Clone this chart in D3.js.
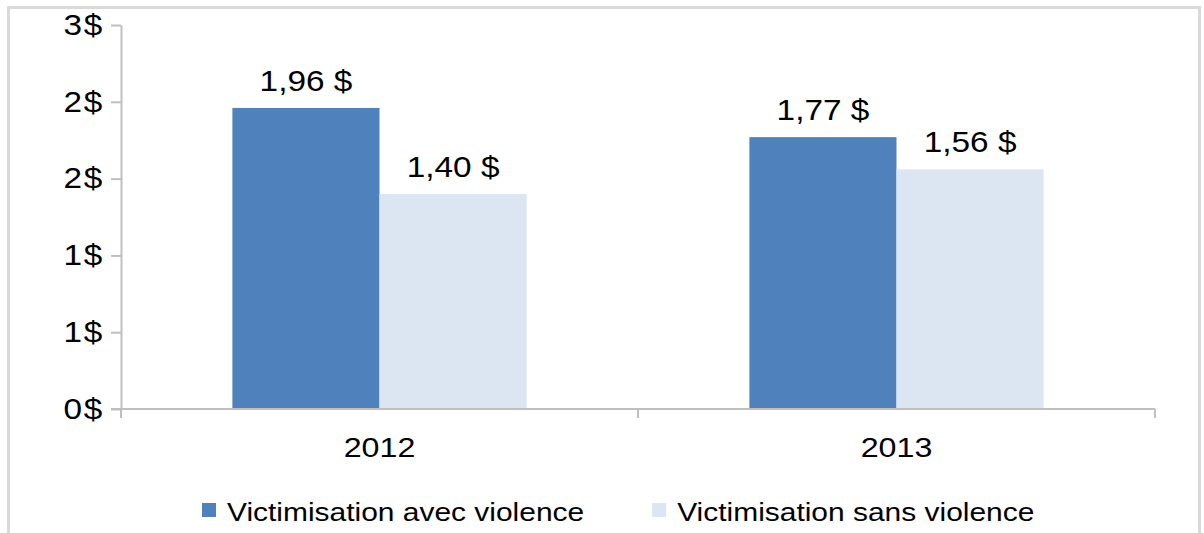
<!DOCTYPE html>
<html>
<head>
<meta charset="utf-8">
<script src="https://cdn.jsdelivr.net/npm/d3@7"></script>
<style>
  html, body { margin: 0; padding: 0; background: #ffffff; }
  svg { display: block; }
  text { font-family: "Liberation Sans", Arial, Helvetica, sans-serif; fill: #000; }
</style>
</head>
<body>
<svg id="chart" width="1204" height="533"></svg>
<script>
// ---- data ----
const categories = ["2012", "2013"];
const seriesNames = ["Victimisation avec violence", "Victimisation sans violence"];
const avecViolence = [1.96, 1.77];
const sansViolence = [1.40, 1.56];
const valueLabelsAvec = ["1,96 $", "1,77 $"];
const valueLabelsSans = ["1,40 $", "1,56 $"];
const yTickValues = [0, 0.5, 1, 1.5, 2, 2.5];
const yTickLabels = ["0$", "1$", "1$", "2$", "2$", "3$"];
const seriesColors = ["#4f81bd", "#dce6f2"];

// ---- layout ----
const svg = d3.select("#chart");
const plot = { left: 121, right: 1155, top: 25, bottom: 409 };
const axisColor = "#bfbfbf";
const SX = 1.15;

// outer frame
svg.append("rect")
  .attr("x", 8.5).attr("y", 7.5)
  .attr("width", 1191).attr("height", 560)
  .attr("fill", "none").attr("stroke", "#d9d9d9").attr("stroke-width", 3);

const y = d3.scaleLinear().domain([0, 2.5]).range([plot.bottom, plot.top]);
const x0 = d3.scaleBand().domain(categories).range([plot.left, plot.right]).paddingInner(0).paddingOuter(0);
const x1 = d3.scaleBand().domain(seriesNames).range([0, x0.bandwidth()]).paddingInner(0).paddingOuter(0.757);

const rows = categories.map((c, i) => ({
  cat: c,
  vals: [
    { s: seriesNames[0], v: avecViolence[i], lab: valueLabelsAvec[i], color: seriesColors[0] },
    { s: seriesNames[1], v: sansViolence[i], lab: valueLabelsSans[i], color: seriesColors[1] }
  ]
}));

// y axis
const yAxis = d3.axisLeft(y)
  .tickValues(yTickValues)
  .tickFormat((d, i) => yTickLabels[i])
  .tickSize(10)
  .tickSizeOuter(0);
const gy = svg.append("g").attr("transform", `translate(${plot.left},0)`).call(yAxis);
gy.select(".domain").attr("stroke", axisColor).attr("stroke-width", 2);
gy.selectAll(".tick line").attr("stroke", axisColor).attr("stroke-width", 2);
gy.selectAll(".tick text")
  .attr("x", 0)
  .attr("transform", `translate(-17,0) scale(${SX},1)`)
  .style("font-size", "29px")
  .style("letter-spacing", "1.5px")
  .attr("fill", "#000");

// bars
const groups = svg.append("g").selectAll("g").data(rows).join("g")
  .attr("transform", d => `translate(${x0(d.cat)},0)`);
groups.selectAll("rect").data(d => d.vals).join("rect")
  .attr("x", d => x1(d.s))
  .attr("y", d => y(d.v))
  .attr("width", x1.bandwidth())
  .attr("height", d => y(0) - y(d.v))
  .attr("fill", d => d.color);

// value labels
groups.selectAll("text").data(d => d.vals).join("text")
  .attr("transform", d => `translate(${x1(d.s) + x1.bandwidth() / 2},${y(d.v) - 17}) scale(${SX},1)`)
  .attr("text-anchor", "middle")
  .style("font-size", "29px")
  .text(d => d.lab);

// x axis line and category ticks
svg.append("line")
  .attr("x1", plot.left - 10).attr("x2", plot.right)
  .attr("y1", plot.bottom).attr("y2", plot.bottom)
  .attr("stroke", axisColor).attr("stroke-width", 2);
const boundaries = categories.map(c => x0(c)).concat([x0(categories[categories.length - 1]) + x0.bandwidth()]);
svg.append("g").selectAll("line").data(boundaries).join("line")
  .attr("x1", d => d).attr("x2", d => d)
  .attr("y1", plot.bottom).attr("y2", plot.bottom + 9)
  .attr("stroke", axisColor).attr("stroke-width", 2);

// category labels
svg.append("g").selectAll("text").data(categories).join("text")
  .attr("transform", d => `translate(${x0(d) + x0.bandwidth() / 2},457) scale(${SX},1)`)
  .attr("text-anchor", "middle")
  .style("font-size", "28px")
  .text(d => d);

// legend
const legend = svg.append("g");
let lx = 202;
seriesNames.forEach((name, i) => {
  const g = legend.append("g").attr("transform", `translate(${lx},0)`);
  g.append("rect").attr("x", 0).attr("y", 503).attr("width", 14).attr("height", 14).attr("fill", seriesColors[i]);
  const t = g.append("text")
    .attr("transform", `translate(25,521) scale(1.13,1)`)
    .style("font-size", "26.5px")
    .text(name);
  const w = t.node().getComputedTextLength() * 1.13;
  lx += 25 + w + 68;
});
</script>
</body>
</html>
